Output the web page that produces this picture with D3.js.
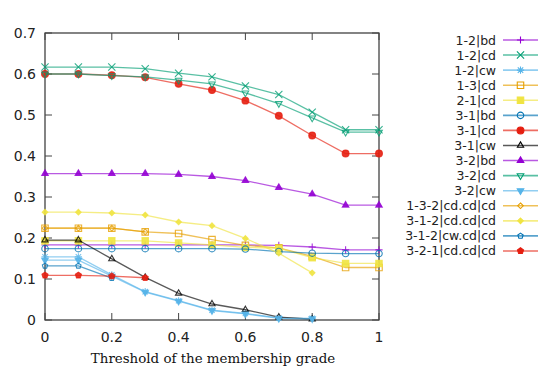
<!DOCTYPE html>
<html>
<head>
<meta charset="utf-8">
<script src="https://cdn.jsdelivr.net/npm/d3@7"></script>
<style>
  body { margin: 0; background: #fff; }
  svg { display: block; }
  .tick-label { font-family: "DejaVu Sans", sans-serif; font-size: 14px; fill: #222; }
  .legend-label { font-family: "DejaVu Sans", sans-serif; font-size: 12.5px; fill: #222; }
  .axis-title { font-family: "DejaVu Serif", serif; font-size: 13.4px; fill: #111; }
</style>
</head>
<body>
<div id="chart"></div>
<script>
// thresholds of the membership grade
const thresholds = [0, 0.1, 0.2, 0.3, 0.4, 0.5, 0.6, 0.7, 0.8, 0.9, 1];
const xTicks = [0, 0.2, 0.4, 0.6, 0.8, 1];
const yTicks = [0, 0.1, 0.2, 0.3, 0.4, 0.5, 0.6, 0.7];

const seriesNames = [
  '1-2|bd', '1-2|cd', '1-2|cw', '1-3|cd', '2-1|cd', '3-1|bd', '3-1|cd', '3-1|cw',
  '3-2|bd', '3-2|cd', '3-2|cw', '1-3-2|cd.cd|cd', '3-1-2|cd.cd|cd', '3-1-2|cw.cd|cd', '3-2-1|cd.cd|cd'
];

// values per series (null = not plotted)
const s12bd = [0.183, 0.183, 0.183, 0.183, 0.183, 0.183, 0.183, 0.182, 0.178, 0.171, 0.171];
const s12cd = [0.617, 0.617, 0.617, 0.613, 0.602, 0.593, 0.571, 0.550, 0.507, 0.464, 0.464];
const s12cw = [0.154, 0.154, 0.110, 0.069, 0.047, 0.024, 0.016, 0.005, 0.004, null, null];
const s13cd = [0.224, 0.224, 0.224, 0.215, 0.211, 0.196, 0.182, 0.176, 0.155, 0.128, 0.128];
const s21cd = [0.193, 0.193, 0.193, 0.193, 0.188, 0.183, 0.177, 0.175, 0.152, 0.138, 0.138];
const s31bd = [0.174, 0.174, 0.174, 0.174, 0.174, 0.174, 0.173, 0.167, 0.163, 0.162, 0.162];
const s31cd = [0.600, 0.600, 0.597, 0.592, 0.576, 0.561, 0.535, 0.498, 0.450, 0.406, 0.406];
const s31cw = [0.195, 0.195, 0.149, 0.104, 0.065, 0.039, 0.025, 0.007, 0.002, null, null];
const s32bd = [0.357, 0.357, 0.357, 0.357, 0.355, 0.350, 0.340, 0.323, 0.307, 0.280, 0.280];
const s32cd = [0.600, 0.600, 0.596, 0.593, 0.585, 0.576, 0.554, 0.528, 0.493, 0.458, 0.458];
const s32cw = [0.146, 0.146, 0.107, 0.068, 0.046, 0.023, 0.015, 0.004, 0.003, null, null];
const s132 = [0.224, 0.224, 0.224, 0.215, null, null, null, null, null, null, null];
const s312cd = [0.263, 0.263, 0.261, 0.256, 0.239, 0.230, 0.199, 0.163, 0.115, null, null];
const s312cw = [0.132, 0.132, 0.102, null, null, null, null, null, null, null, null];
const s321 = [0.109, 0.109, 0.107, 0.103, null, null, null, null, null, null, null];

const seriesValues = [s12bd, s12cd, s12cw, s13cd, s21cd, s31bd, s31cd, s31cw,
  s32bd, s32cd, s32cw, s132, s312cd, s312cw, s321];

const colors = ['#9400d3', '#009e73', '#56b4e9', '#e69f00', '#f0e442', '#0072b2', '#e51e10', '#000000',
  '#9400d3', '#009e73', '#56b4e9', '#e69f00', '#f0e442', '#0072b2', '#e51e10'];
const markers = ['plus', 'cross', 'star', 'square', 'squareF', 'circle', 'circleF', 'triangle',
  'triangleF', 'itriangle', 'itriangleF', 'diamond', 'diamondF', 'pentagon', 'pentagonF'];
const markerSizes = [3.6, 3.6, 3.6, 3.8, 3.8, 3.6, 3.8, 3.6, 3.8, 3.8, 3.8, 2.8, 2.8, 2.8, 3.2];

const width = 541, height = 370;
const margin = { left: 45, right: 162, top: 33, bottom: 50 };
const plotW = width - margin.left - margin.right;
const plotH = height - margin.top - margin.bottom;

const svg = d3.select('#chart').append('svg')
  .attr('width', width)
  .attr('height', height);

const g = svg.append('g')
  .attr('transform', 'translate(' + margin.left + ',' + margin.top + ')');

const x = d3.scaleLinear().domain([0, 1]).range([0, plotW]);
const y = d3.scaleLinear().domain([0, 0.7]).range([plotH, 0]);

// marker path, centered at 0,0
function markerPath(type, r) {
  const p = d3.path();
  const poly = (n, rot, rr) => {
    for (let i = 0; i < n; i++) {
      const a = rot + i * 2 * Math.PI / n;
      const px = rr * Math.cos(a), py = rr * Math.sin(a);
      if (i === 0) p.moveTo(px, py); else p.lineTo(px, py);
    }
    p.closePath();
  };
  const base = type.replace('F', '');
  if (base === 'plus') {
    p.moveTo(-r, 0); p.lineTo(r, 0); p.moveTo(0, -r); p.lineTo(0, r);
  } else if (base === 'cross') {
    p.moveTo(-r, -r); p.lineTo(r, r); p.moveTo(-r, r); p.lineTo(r, -r);
  } else if (base === 'star') {
    p.moveTo(-r, 0); p.lineTo(r, 0); p.moveTo(0, -r); p.lineTo(0, r);
    p.moveTo(-r * 0.75, -r * 0.75); p.lineTo(r * 0.75, r * 0.75);
    p.moveTo(-r * 0.75, r * 0.75); p.lineTo(r * 0.75, -r * 0.75);
  } else if (base === 'square') {
    p.rect(-r * 0.85, -r * 0.85, r * 1.7, r * 1.7);
  } else if (base === 'circle') {
    p.arc(0, 0, r * 0.9, 0, 2 * Math.PI);
  } else if (base === 'triangle') {
    poly(3, -Math.PI / 2, r);
  } else if (base === 'itriangle') {
    poly(3, Math.PI / 2, r);
  } else if (base === 'diamond') {
    poly(4, -Math.PI / 2, r);
  } else if (base === 'pentagon') {
    poly(5, -Math.PI / 2, r);
  }
  return p.toString();
}

// frame
g.append('rect')
  .attr('width', plotW)
  .attr('height', plotH)
  .attr('fill', 'none')
  .attr('stroke', '#333')
  .attr('stroke-width', 1.2);

// ticks (inward, mirrored)
const tickLen = 7;
const tg = g.append('g').attr('stroke', '#444').attr('stroke-width', 1);
xTicks.forEach(t => {
  tg.append('line').attr('x1', x(t)).attr('x2', x(t)).attr('y1', plotH).attr('y2', plotH - tickLen);
  tg.append('line').attr('x1', x(t)).attr('x2', x(t)).attr('y1', 0).attr('y2', tickLen);
});
yTicks.forEach(t => {
  tg.append('line').attr('x1', 0).attr('x2', tickLen).attr('y1', y(t)).attr('y2', y(t));
  tg.append('line').attr('x1', plotW).attr('x2', plotW - tickLen).attr('y1', y(t)).attr('y2', y(t));
});

g.selectAll('.xlab')
  .data(xTicks)
  .enter()
  .append('text')
  .attr('class', 'tick-label')
  .attr('x', d => x(d))
  .attr('y', plotH + 22)
  .attr('text-anchor', 'middle')
  .text(d => d3.format('')(d));

g.selectAll('.ylab')
  .data(yTicks)
  .enter()
  .append('text')
  .attr('class', 'tick-label')
  .attr('x', -9)
  .attr('y', d => y(d) + 5)
  .attr('text-anchor', 'end')
  .text(d => d === 0 ? '0' : d3.format('.1f')(d));

g.append('text')
  .attr('class', 'axis-title')
  .attr('x', plotW / 2 + 1)
  .attr('y', plotH + 43)
  .attr('text-anchor', 'middle')
  .text('Threshold of the membership grade');

// data
const series = seriesNames.map((name, i) => ({
  name: name,
  color: colors[i],
  marker: markers[i],
  size: markerSizes[i],
  values: thresholds.map((t, j) => ({ t: t, v: seriesValues[i][j] })).filter(d => d.v !== null)
}));

const line = d3.line()
  .x(d => x(d.t))
  .y(d => y(d.v));

const sg = g.selectAll('.series')
  .data(series)
  .enter()
  .append('g');

sg.append('path')
  .attr('d', d => line(d.values))
  .attr('fill', 'none')
  .attr('stroke', d => d.color)
  .attr('stroke-opacity', 0.65)
  .attr('stroke-width', 1.3);

sg.each(function (s) {
  const filled = s.marker.endsWith('F');
  d3.select(this).selectAll('.pt')
    .data(s.values)
    .enter()
    .append('path')
    .attr('transform', d => 'translate(' + x(d.t) + ',' + y(d.v) + ')')
    .attr('d', markerPath(s.marker, s.size))
    .attr('fill', filled ? s.color : 'none')
    .attr('fill-opacity', 0.9)
    .attr('stroke', s.color)
    .attr('stroke-opacity', 0.8)
    .attr('stroke-width', 1.1);
});

// legend
const legend = svg.append('g').attr('transform', 'translate(496, 40)');
const rowH = 15.07;
const lg = legend.selectAll('.leg')
  .data(series)
  .enter()
  .append('g')
  .attr('transform', (d, i) => 'translate(0,' + i * rowH + ')');

lg.append('text')
  .attr('class', 'legend-label')
  .attr('x', 0)
  .attr('y', 4.5)
  .attr('text-anchor', 'end')
  .text(d => d.name);

lg.append('line')
  .attr('x1', 7).attr('x2', 42)
  .attr('stroke', d => d.color)
  .attr('stroke-opacity', 0.65)
  .attr('stroke-width', 1.6);

lg.append('path')
  .attr('transform', 'translate(24.5,0)')
  .attr('d', d => markerPath(d.marker, d.size))
  .attr('fill', d => d.marker.endsWith('F') ? d.color : 'none')
  .attr('stroke', d => d.color)
  .attr('stroke-width', 1.1);
</script>
</body>
</html>
